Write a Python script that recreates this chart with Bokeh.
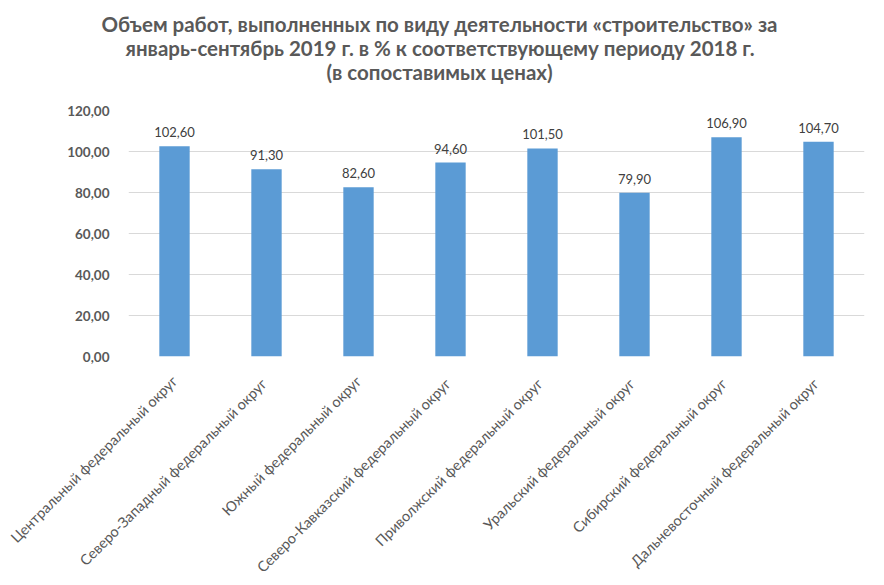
from bokeh.plotting import figure
from bokeh.models import ColumnDataSource, Title, CustomJSTickFormatter, FixedTicker, Range1d
from bokeh.core.properties import value
from bokeh.embed import file_html
from bokeh.resources import INLINE
import math

categories = [
    "Центральный федеральный округ",
    "Северо-Западный  федеральный округ",
    "Южный федеральный округ",
    "Северо-Кавказский  федеральный округ",
    "Приволжский  федеральный округ",
    "Уральский  федеральный округ",
    "Сибирский  федеральный округ",
    "Дальневосточный  федеральный округ",
]
values = [102.6, 91.3, 82.6, 94.6, 101.5, 79.9, 106.9, 104.7]
y_ticks = [0, 20, 40, 60, 80, 100, 120]
title_lines = [
    "Объем работ, выполненных по виду деятельности «строительство» за",
    "январь-сентябрь 2019 г. в % к соответствующему периоду 2018 г.",
    "(в сопоставимых ценах)",
]
# horizontal pixel offsets from the frame's left edge so each line is centred on the chart
title_offsets = [-27, -3, 198]

labels = [f"{v:.2f}".replace(".", ",") for v in values]
src = ColumnDataSource(dict(cat=categories, val=values, lab=labels))

FONT = "Lato"
GRAY = "#595959"

p = figure(x_range=categories, y_range=Range1d(0, 120),
           frame_width=736, frame_height=246,
           output_backend="svg", toolbar_location=None,
           min_border_left=128, min_border_right=3, min_border_top=110, min_border_bottom=0)
p.outline_line_color = None

# spacer between title block and plot frame
p.add_layout(Title(text=" ", text_font_size="16px", standoff=9), "above")
for line, off in reversed(list(zip(title_lines, title_offsets))):
    t = Title(text=line, align="left", offset=off, text_font=FONT, text_font_size="20.5px",
              text_font_style="bold", text_color=GRAY, standoff=-2)
    p.add_layout(t, "above")

p.vbar(x="cat", top="val", width=0.33, source=src, color="#5B9BD5", line_color=None)
p.text(x="cat", y="val", text="lab", source=src, text_align="center", text_baseline="bottom",
       y_offset=-9, text_font=value(FONT), text_font_size="13px", text_color="#404040")

p.yaxis.ticker = FixedTicker(ticks=y_ticks)
p.yaxis.formatter = CustomJSTickFormatter(code="return tick.toFixed(2).replace('.', ',');")
p.yaxis.major_label_text_font = FONT
p.yaxis.major_label_text_font_size = "13.5px"
p.yaxis.major_label_text_font_style = "bold"
p.yaxis.major_label_text_color = GRAY
p.yaxis.axis_line_color = None
p.yaxis.major_tick_line_color = None
p.yaxis.minor_tick_line_color = None
p.yaxis.major_label_standoff = 13

p.xaxis.major_label_orientation = math.pi / 4
p.xaxis.major_label_text_font = FONT
p.xaxis.major_label_text_font_size = "14.5px"
p.xaxis.major_label_text_color = GRAY
p.xaxis.axis_line_color = None
p.xaxis.major_tick_line_color = None
p.xaxis.major_label_standoff = 16

p.xgrid.grid_line_color = None
p.ygrid.grid_line_color = "#D9D9D9"
p.ygrid.grid_line_width = 1
p.x_range.range_padding = 0

open("out.html", "w").write(file_html(p, INLINE))
